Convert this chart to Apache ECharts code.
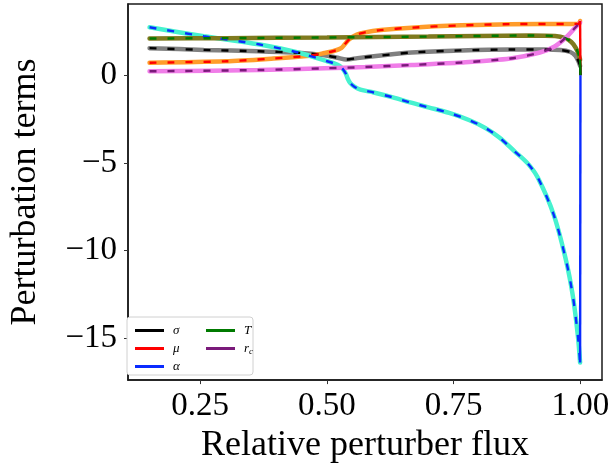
<!DOCTYPE html>
<html><head><meta charset="utf-8">
<script src="https://cdn.jsdelivr.net/npm/echarts@6/dist/echarts.min.js"></script>
<style>html,body{margin:0;padding:0;background:#fff}#c{width:613px;height:469px}</style>
</head><body><div id="c"></div>
<script>
// ---- data ----
const sigmaX = [0.15,0.257,0.365,0.443,0.495,0.521,0.538,0.56,0.606,0.667,0.765,0.862,0.93,0.96,0.98,0.99,0.996,0.9993,1.0];
const sigmaY = [1.55,1.45,1.37,1.29,1.15,1.00,0.90,0.98,1.13,1.30,1.42,1.47,1.47,1.44,1.33,1.12,0.80,0.55,0.0];
const muX = [0.15,0.30,0.39,0.466,0.495,0.515,0.528,0.536,0.544,0.559,0.575,0.606,0.667,0.765,0.86,0.98,0.996,0.9993,1.0];
const muY = [0.72,0.80,0.95,1.12,1.27,1.40,1.55,1.80,2.06,2.32,2.45,2.58,2.72,2.85,2.92,2.93,2.93,3.10,0.0];
const alphaX = [0.15,0.257,0.365,0.443,0.495,0.521,0.530,0.537,0.541,0.546,0.554,0.566,0.592,0.630,0.664,0.700,0.741,0.780,0.812,0.840,0.870,0.895,0.916,0.947,0.971,0.985,0.995,0.9993,1.0];
const alphaY = [2.74,2.23,1.77,1.30,0.85,0.60,0.40,0.10,-0.20,-0.45,-0.65,-0.82,-0.98,-1.26,-1.55,-1.83,-2.15,-2.55,-3.00,-3.55,-4.34,-5.00,-5.85,-7.94,-10.50,-12.60,-14.90,-16.40,0.0];
const tX = [0.15,0.3,0.5,0.7,0.9,0.95,0.97,0.982,0.99,0.995,0.9993,1.0];
const tY = [2.10,2.12,2.16,2.21,2.27,2.24,2.12,1.90,1.60,1.30,0.90,0.0];
const rcX = [0.15,0.365,0.495,0.575,0.667,0.765,0.862,0.92,0.95,0.973,0.989,0.9993];
const rcY = [0.23,0.30,0.40,0.47,0.59,0.73,0.96,1.30,1.66,2.20,2.70,3.00];
const xTicks = [0.25,0.5,0.75,1.0];
const yTicks = [-15,-10,-5,0];
const xTickLabels = ['0.25','0.50','0.75','1.00'];
const yTickLabels = ['\u221215','\u221210','\u22125','0'];

const pts = (xs, ys) => xs.map((x,i)=>[x, ys[i]]);
const FONT = 'Liberation Serif';

const defs = [
  {name:'\u03c3', xs:sigmaX, ys:sigmaY, under:'#808080', over:'#000000', tail:true, sm:0.25},
  {name:'\u03bc', xs:muX, ys:muY, under:'#ff9c2a', over:'#ff0000', tail:true, sm:0.3},
  {name:'\u03b1', xs:alphaX, ys:alphaY, under:'#46f2cf', over:'#0a2bff', tail:true, sm:0.3},
  {name:'T', xs:tX, ys:tY, under:'#7f7a1e', over:'#007a00', tail:true, sm:0.3},
  {name:'rc', xs:rcX, ys:rcY, under:'#f07de8', over:'#7a1a7a', tail:false, sm:0.3},
];

const series = [];
defs.forEach(d => {
  const all = pts(d.xs, d.ys);
  const body = d.tail ? all.slice(0, -1) : all;
  series.push({type:'line', data:body, showSymbol:false, smooth:d.sm,
    lineStyle:{color:d.under, width:4.5, cap:'round'}, silent:true, z:2, legendHoverLink:false});
  series.push({name:d.name, type:'line', data:body, showSymbol:false, smooth:d.sm,
    itemStyle:{color:d.over}, lineStyle:{color:d.over, width:2.4, type:[7,11]}, z:3});
});
// final vertical drops at x = 1 (solid), drawn in order so lower ones cover
[1,0,3,2].forEach(i => {
  const d = defs[i];
  const all = pts(d.xs, d.ys);
  series.push({type:'line', data:all.slice(-2), showSymbol:false,
    lineStyle:{color:d.over, width:2.4}, z:4, silent:true});
});

const chart = echarts.init(document.getElementById('c'), null, {renderer:'canvas'});
const legendText = {fontFamily:FONT, fontStyle:'italic', fontSize:13, color:'#000', padding:[0,0,0,4],
  rich:{s:{fontFamily:FONT, fontStyle:'italic', fontSize:9, verticalAlign:'bottom', padding:[6,0,0,0]}}};
chart.setOption({
  animation:false,
  grid:{left:120, right:11, top:4, bottom:88, show:true, borderColor:'#1a1a1a', borderWidth:1.5},
  xAxis:{type:'value', min:0.1075, max:1.0425, name:'Relative perturber flux', nameLocation:'middle', nameGap:46,
    nameTextStyle:{fontFamily:FONT, fontSize:36, color:'#000'},
    axisLine:{show:true, onZero:false, lineStyle:{color:'#1a1a1a', width:1.5}},
    axisTick:{show:true, length:4, lineStyle:{color:'#333'}, customValues:xTicks},
    axisLabel:{fontFamily:FONT, fontSize:33, color:'#000', margin:10, customValues:xTicks,
      formatter:v=>xTickLabels[xTicks.findIndex(t=>Math.abs(t-v)<1e-6)]},
    splitLine:{show:false}},
  yAxis:{type:'value', min:-17.4, max:4.07, name:'Perturbation terms', nameLocation:'middle', nameGap:84,
    nameTextStyle:{fontFamily:FONT, fontSize:36, color:'#000'},
    axisLine:{show:true, onZero:false, lineStyle:{color:'#1a1a1a', width:1.5}},
    axisTick:{show:true, length:4, lineStyle:{color:'#333'}, customValues:yTicks},
    axisLabel:{fontFamily:FONT, fontSize:33, color:'#000', margin:11, customValues:yTicks,
      formatter:v=>yTickLabels[yTicks.findIndex(t=>Math.abs(t-v)<1e-6)]},
    splitLine:{show:false}},
  graphic:[{type:'rect', shape:{x:127, y:317, width:126, height:58, r:3},
    style:{fill:'#fff', stroke:'#d0d0d0', lineWidth:1}, z:10}],
  legend:[
    {data:['\u03c3','\u03bc','\u03b1'], orient:'vertical', left:130, top:319, itemGap:5,
      itemWidth:29, itemHeight:3, icon:'rect', textStyle:legendText, z:11, selectedMode:false},
    {data:['T','rc'], orient:'vertical', left:201, top:319, itemGap:5,
      itemWidth:29, itemHeight:3, icon:'rect', textStyle:legendText, z:11, selectedMode:false,
      formatter:n=> n==='rc' ? 'r{s|c}' : n}
  ],
  series
});
</script></body></html>
